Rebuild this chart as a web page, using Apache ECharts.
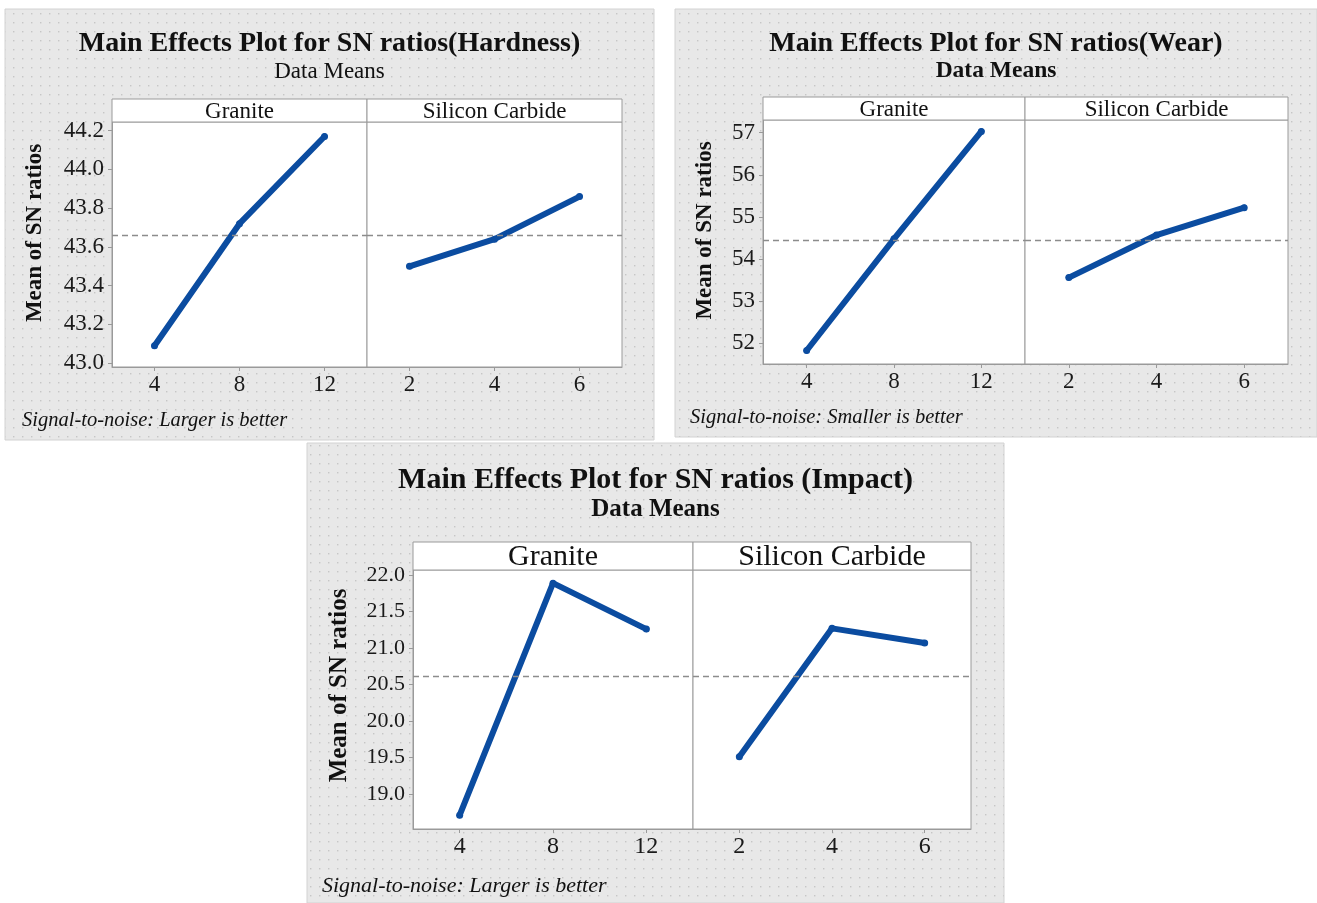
<!DOCTYPE html>
<html>
<head>
<meta charset="utf-8">
<title>Main Effects Plots for SN ratios</title>
<script src="https://cdn.jsdelivr.net/npm/echarts@6/dist/echarts.min.js"></script>
<style>
  html, body { margin: 0; padding: 0; background: #ffffff; }
  #chart { width: 1317px; height: 903px; }
</style>
</head>
<body>
<div id="chart"></div>
<script>
// Factor levels
const factorNames = ['Granite', 'Silicon Carbide'];
const graniteLevels = ['4', '8', '12'];
const sicLevels = ['2', '4', '6'];

// Mean of SN ratios per level
const hardnessGranite = [43.09, 43.72, 44.17];
const hardnessSiC = [43.50, 43.64, 43.86];
const wearGranite = [51.83, 54.48, 57.03];
const wearSiC = [53.56, 54.57, 55.22];
const impactGranite = [18.71, 21.89, 21.26];
const impactSiC = [19.51, 21.27, 21.07];

// Y tick labels
const hardnessTicks = [43.0, 43.2, 43.4, 43.6, 43.8, 44.0, 44.2];
const wearTicks = [52, 53, 54, 55, 56, 57];
const impactTicks = [19.0, 19.5, 20.0, 20.5, 21.0, 21.5, 22.0];

// Texts
const titles = [
  'Main Effects Plot for SN ratios(Hardness)',
  'Main Effects Plot for SN ratios(Wear)',
  'Main Effects Plot for SN ratios (Impact)'
];
const subtitle = 'Data Means';
const yName = 'Mean of SN ratios';
const footnotes = [
  'Signal-to-noise: Larger is better',
  'Signal-to-noise: Smaller is better',
  'Signal-to-noise: Larger is better'
];

const SERIF = "'Liberation Serif', 'DejaVu Serif', serif";
const LINE_BLUE = '#0b4ca0';
const FRAME = '#9a9a9a';

// Panel layouts
const panels = [
  {
    box: { x: 5, y: 9, w: 649, h: 431 },
    plot: { left: 112, top: 122, w1: 255, w2: 255, h: 245 },
    headerH: 23, headerFont: 23,
    title: { y: 44, size: 28 }, sub: { y: 72, size: 23, weight: 'normal' },
    yNameX: 35, yNameSize: 23, tickFont: 23, xTickFont: 23,
    foot: { x: 22, y: 421, size: 20.5 },
    yMin: 42.98, yMax: 44.245, ticks: hardnessTicks, decimals: 1,
    a: hardnessGranite, b: hardnessSiC
  },
  {
    box: { x: 675, y: 9, w: 642, h: 428 },
    plot: { left: 763, top: 120, w1: 262, w2: 263, h: 244 },
    headerH: 23, headerFont: 23,
    title: { y: 44, size: 28 }, sub: { y: 71, size: 23.5, weight: 'bold' },
    yNameX: 705, yNameSize: 23, tickFont: 23, xTickFont: 23,
    foot: { x: 690, y: 418, size: 20.5 },
    yMin: 51.51, yMax: 57.30, ticks: wearTicks, decimals: 0,
    a: wearGranite, b: wearSiC
  },
  {
    box: { x: 307, y: 443, w: 697, h: 460 },
    plot: { left: 413, top: 570, w1: 280, w2: 278, h: 259 },
    headerH: 28, headerFont: 30,
    title: { y: 480, size: 30 }, sub: { y: 510, size: 25, weight: 'bold' },
    yNameX: 340, yNameSize: 25, tickFont: 22, xTickFont: 24,
    foot: { x: 322, y: 886, size: 22 },
    yMin: 18.52, yMax: 22.07, ticks: impactTicks, decimals: 1,
    a: impactGranite, b: impactSiC
  }
];

// Dotted panel background pattern
function dotPattern() {
  const c = document.createElement('canvas');
  c.width = 9; c.height = 9;
  const g = c.getContext('2d');
  g.fillStyle = '#e8e8e8';
  g.fillRect(0, 0, 9, 9);
  g.fillStyle = '#c6c6c6';
  g.fillRect(4, 4, 1.4, 1.4);
  return { image: c, repeat: 'repeat' };
}
const pattern = dotPattern();

function mean(arr) {
  return arr.reduce((s, v) => s + v, 0) / arr.length;
}

const grids = [], xAxes = [], yAxes = [], series = [], graphics = [];

panels.forEach((p, i) => {
  const overall = mean(p.a.concat(p.b));

  // panel background
  graphics.push({
    type: 'rect', z: -10,
    shape: { x: p.box.x, y: p.box.y, width: p.box.w, height: p.box.h },
    style: { fill: pattern, stroke: '#d2d2d2', lineWidth: 1 }
  });
  // title and subtitle
  graphics.push({
    type: 'text', z: 5,
    x: p.box.x + p.box.w / 2, y: p.title.y,
    style: {
      text: titles[i], fontFamily: SERIF, fontWeight: 'bold', fontSize: p.title.size,
      fill: '#111', align: 'center', verticalAlign: 'middle'
    }
  });
  graphics.push({
    type: 'text', z: 5,
    x: p.box.x + p.box.w / 2, y: p.sub.y,
    style: {
      text: subtitle, fontFamily: SERIF, fontWeight: p.sub.weight, fontSize: p.sub.size,
      fill: '#111', align: 'center', verticalAlign: 'middle'
    }
  });
  // footnote
  graphics.push({
    type: 'text', z: 5,
    x: p.foot.x, y: p.foot.y,
    style: {
      text: footnotes[i], fontFamily: SERIF, fontStyle: 'italic', fontSize: p.foot.size,
      fill: '#111', align: 'left', verticalAlign: 'middle'
    }
  });
  // y-axis title, centred on the header strip plus plot area
  graphics.push({
    type: 'text', z: 5,
    x: p.yNameX, y: (p.plot.top - p.headerH + p.plot.top + p.plot.h) / 2,
    rotation: Math.PI / 2,
    style: {
      text: yName, fontFamily: SERIF, fontWeight: 'bold', fontSize: p.yNameSize,
      fill: '#111', align: 'center', verticalAlign: 'middle'
    }
  });

  const levels = [graniteLevels, sicLevels];
  const values = [p.a, p.b];
  const widths = [p.plot.w1, p.plot.w2];
  let left = p.plot.left;

  for (let k = 0; k < 2; k++) {
    const gi = grids.length;
    // header strip with factor name
    graphics.push({
      type: 'rect', z: 1,
      shape: { x: left, y: p.plot.top - p.headerH, width: widths[k], height: p.headerH },
      style: { fill: '#ffffff', stroke: FRAME, lineWidth: 1 }
    });
    graphics.push({
      type: 'text', z: 5,
      x: left + widths[k] / 2, y: p.plot.top - p.headerH / 2 + 1,
      style: {
        text: factorNames[k], fontFamily: SERIF, fontSize: p.headerFont,
        fill: '#111', align: 'center', verticalAlign: 'middle'
      }
    });

    grids.push({
      left: left, top: p.plot.top, width: widths[k], height: p.plot.h,
      show: true, backgroundColor: '#ffffff', borderColor: FRAME, borderWidth: 1,
      outerBoundsMode: 'none', containLabel: false
    });
    xAxes.push({
      type: 'category', gridIndex: gi, data: levels[k], boundaryGap: true,
      axisLine: { show: true, lineStyle: { color: FRAME } },
      axisTick: { show: true, alignWithLabel: true, length: 4, lineStyle: { color: FRAME } },
      axisLabel: { fontFamily: SERIF, fontSize: p.xTickFont, color: '#1a1a1a', margin: 6 },
      splitLine: { show: false }
    });
    yAxes.push({
      type: 'value', gridIndex: gi, min: p.yMin, max: p.yMax,
      axisLine: { show: k === 0, lineStyle: { color: FRAME } },
      axisTick: { show: k === 0, length: 4, lineStyle: { color: FRAME }, customValues: p.ticks },
      axisLabel: {
        show: k === 0, fontFamily: SERIF, fontSize: p.tickFont, color: '#1a1a1a', margin: 8,
        customValues: p.ticks,
        formatter: v => Number(v).toFixed(p.decimals)
      },
      splitLine: { show: false }
    });
    series.push({
      type: 'line', xAxisIndex: gi, yAxisIndex: gi,
      data: values[k],
      symbol: 'circle', symbolSize: 7,
      itemStyle: { color: LINE_BLUE },
      lineStyle: { color: LINE_BLUE, width: 6, cap: 'round', join: 'round' },
      z: 3,
      markLine: {
        silent: true, symbol: 'none', animation: false,
        label: { show: false },
        lineStyle: { color: '#8c8c8c', type: [6, 4], width: 1.4 },
        data: [{ yAxis: overall }]
      }
    });
    left += widths[k];
  }
});

const chart = echarts.init(document.getElementById('chart'), null, { renderer: 'canvas' });
chart.setOption({
  backgroundColor: '#ffffff',
  animation: false,
  grid: grids,
  xAxis: xAxes,
  yAxis: yAxes,
  series: series,
  graphic: { elements: graphics }
});
</script>
</body>
</html>
